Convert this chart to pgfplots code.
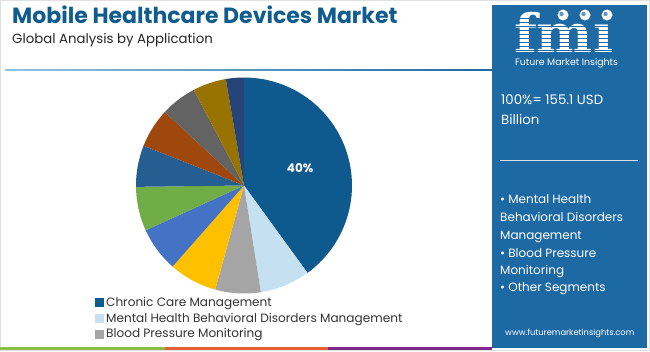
\documentclass[border=0pt]{standalone}
\usepackage{pgfplots}
\pgfplotsset{compat=1.18}
\usepackage{pgfplotstable}
\usepackage{fontspec}
\setmainfont{Poppins}
\newfontfamily\logofont{DejaVu Serif}
\definecolor{c0}{HTML}{0E5A8E}
\definecolor{c1}{HTML}{C5E1F1}
\definecolor{c2}{HTML}{A5A5A5}
\definecolor{c3}{HTML}{FFC000}
\definecolor{c4}{HTML}{4472C4}
\definecolor{c5}{HTML}{70AD47}
\definecolor{c6}{HTML}{255E91}
\definecolor{c7}{HTML}{9E480E}
\definecolor{c8}{HTML}{636363}
\definecolor{c9}{HTML}{997300}
\definecolor{c10}{HTML}{264478}
\definecolor{titleblue}{HTML}{0F5C8F}
\definecolor{panelblue}{HTML}{1D69A4}
\definecolor{txtgray}{HTML}{333333}
\definecolor{stripegreen}{HTML}{8CBE46}
\definecolor{stripeorange}{HTML}{E26036}
\definecolor{stripepurple}{HTML}{82288C}
\definecolor{linelight}{HTML}{96C3E1}

\pgfplotsset{sqleg/.style={legend image code/.code={\fill[##1] (0pt,-4.5pt) rectangle (9pt,4.5pt);}}}

\pgfplotstableread{
label value
Chronic 40.0
Mental 7.5
BloodPressure 6.8
S4 7.2
S5 6.7
S6 6.6
S7 6.2
S8 5.9
S9 5.4
S10 5.0
S11 2.7
}\piedata

\newcommand\cum{0}
\newcommand\slice[2]{%
  \pgfmathsetmacro\sA{\cum*3.6}%
  \pgfmathsetmacro\cumnew{\cum+#2}%
  \pgfmathsetmacro\sB{\cumnew*3.6}%
  \xdef\cum{\cumnew}%
  \edef\doslice{\noexpand\addplot[forget plot, fill=#1, draw=none, domain=\sA:\sB, samples=60] ({sin(x)},{cos(x)}) -- (0,0) -- cycle;}%
  \doslice}

\begin{document}
\begin{tikzpicture}[x=1pt,y=1pt]
\fill[white] (0,0) rectangle (650,351);
\draw[black!12, line width=1pt] (0.5,0.5) rectangle (649.5,350.5);
\coordinate (piecenter) at (244,165.5);
% bottom stripe
\fill[stripegreen] (0,1) rectangle (165,4);
\fill[stripeorange] (165,1) rectangle (328,4);
\fill[stripepurple] (328,1) rectangle (492,4);
% panel
\fill[panelblue] (492,3) rectangle (647,346);
% title
\node[anchor=base west, inner sep=0pt, text=titleblue, font=\bfseries\fontsize{22}{24}\selectfont] at (12,327) {Mobile Healthcare Devices Market};
\node[anchor=base west, inner sep=0pt, text=black!85, font=\fontsize{13.3}{15}\selectfont] at (12,307.7) {Global Analysis by Application};
\shade[left color=linelight, right color=panelblue] (5,280.2) rectangle (492,281.8);
% logo
\node[anchor=base west, inner sep=0pt, text depth=0pt, text=white, font=\logofont\bfseries\fontsize{53}{53}\selectfont] at (514,298.5) {fmı};
\foreach \yy in {300.5,304.5,...,336} {\draw[panelblue, line width=1pt] (510,\yy) -- (625,\yy);}
\foreach \xx in {563,585,607} {\fill[white] (\xx,336) circle (5.5); \fill[panelblue!70] (\xx-1.5,337) circle (2.2);}
\node[anchor=base west, inner sep=0pt, text=white, font=\fontsize{9.4}{10}\selectfont] at (515,285.5) {Future Market Insights};
% panel texts
\node[anchor=base west, inner sep=0pt, text=white, font=\fontsize{13.3}{14}\selectfont] at (501,246) {100\%= 155.1 USD};
\node[anchor=base west, inner sep=0pt, text=white, font=\fontsize{13.3}{14}\selectfont] at (501,226) {Billion};
\draw[white!80!panelblue, line width=1pt] (500,190) -- (638,190);
\foreach \t/\yy in {{• Mental Health}/147, {Behavioral Disorders}/129, {Management}/112, {• Blood Pressure}/94, {Monitoring}/77, {• Other Segments}/60}
  {\node[anchor=base west, inner sep=0pt, text=white, font=\fontsize{12}{13}\selectfont] at (500,\yy) {\t};}
\node[anchor=base west, inner sep=0pt, text=white, font=\fontsize{8.3}{9}\selectfont] at (505,16) {www.futuremarketinsights.com};

\begin{axis}[at={(piecenter)}, anchor=origin, scale only axis, width=216pt, height=216pt,
  xmin=-1, xmax=1, ymin=-1, ymax=1, hide axis, clip=false,
  legend style={at={(axis description cs:-0.19,-0.009)}, anchor=north west, draw=none, fill=none,
    font=\fontsize{12.1}{14}\selectfont, text=txtgray, row sep=0.8pt, inner sep=0pt},
  legend cell align=left]
\pgfplotsforeachungrouped \i in {0,...,10}{%
  \pgfplotstablegetelem{\i}{value}\of\piedata
  \edef\v{\pgfplotsretval}%
  \slice{c\i}{\v}%
}
\addlegendimage{fill=c0, draw=none, sqleg}
\addlegendentry{Chronic Care Management}
\addlegendimage{fill=c1, draw=none, sqleg}
\addlegendentry{Mental Health Behavioral Disorders Management}
\addlegendimage{fill=c2, draw=none, sqleg}
\addlegendentry{Blood Pressure Monitoring}
\node[text=white, font=\bfseries\fontsize{12}{12}\selectfont] at (axis cs:0.52,0.16) {40\%};
\end{axis}
\end{tikzpicture}
\end{document}
